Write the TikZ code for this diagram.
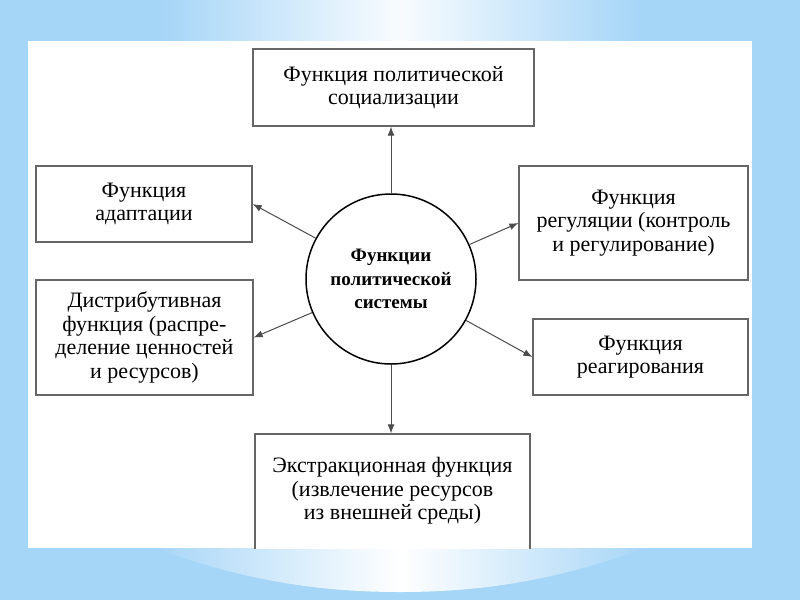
\documentclass[tikz,border=0pt]{standalone}
\usepackage{fontspec}
\setmainfont{Liberation Serif}
\usetikzlibrary{arrows.meta}
\definecolor{fonblue}{RGB}{165,213,247}
\begin{document}
\begin{tikzpicture}[x=1pt,y=-1pt,>={Latex[length=9pt,width=7pt]},
		funbox/.style={draw=black!60,line width=1.3pt,fill=white,align=center,inner sep=0pt,
			font=\fontsize{22}{23.5}\selectfont},
		funtext/.style={align=center,inner sep=0pt,font=\fontsize{22}{23.5}\selectfont},
		sysnode/.style={circle,draw=black,line width=1.5pt,minimum size=170pt,align=center,inner sep=0pt,
			font=\bfseries\fontsize{19}{23.5}\selectfont},
		arr/.style={->,black!70,line width=1pt}]
	\useasboundingbox (0,0) rectangle (800,600);
	% Background
	\fill[fonblue] (0,0) rectangle (800,600);
	\shade[left color=fonblue,right color=white!92!fonblue] (160,0) rectangle (400,42);
	\shade[left color=white!92!fonblue,right color=fonblue] (400,0) rectangle (640,42);
	\begin{scope}
		\clip (150,546) .. controls (250,584) and (330,592) .. (400,592)
			.. controls (470,592) and (550,584) .. (650,546) -- cycle;
		\shade[left color=fonblue,right color=white] (150,546) rectangle (400,600);
		\shade[left color=white,right color=fonblue] (400,546) rectangle (650,600);
	\end{scope}
	\fill[white] (28,41) rectangle (752,548);
	\begin{scope}
		\clip (28,41) rectangle (752,548);
		% Functions
		\node[sysnode] (sys) at (391,279) {Функции\\политической\\системы};
		\node[funbox,minimum width=281pt,minimum height=77pt] (soc) at (393.5,87.5)
			{Функция политической\\социализации};
		\node[funbox,minimum width=216pt,minimum height=76pt] (adapt) at (144,204)
			{Функция\\адаптации};
		\node[funbox,minimum width=217pt,minimum height=115pt] (distr) at (144.5,337.5)
			{Дистрибутивная\\функция (распре-\\деление ценностей\\и ресурсов)};
		\node[funbox,minimum width=229pt,minimum height=114pt] (regul) at (633.5,223)
			{Функция\\регуляции (контроль\\и регулирование)};
		\node[funbox,minimum width=215pt,minimum height=76pt] (react) at (640.5,357)
			{Функция\\реагирования};
		\node[funbox,minimum width=275pt,minimum height=130pt] (extr) at (392.5,499) {};
		\node[funtext] (extrtext) at (392.5,491)
			{Экстракционная функция\\(извлечение ресурсов\\из внешней среды)};
		% Arrows
		\draw[arr] (sys.north) -- (sys.north |- soc.south);
		\draw[arr] (sys.south) -- (sys.south |- extr.north);
		\draw[arr] (sys) -- (adapt.east);
		\draw[arr] (sys) -- (distr.east);
		\draw[arr] (sys) -- (regul.west);
		\draw[arr] (sys) -- (react.west);
	\end{scope}
\end{tikzpicture}
\end{document}
